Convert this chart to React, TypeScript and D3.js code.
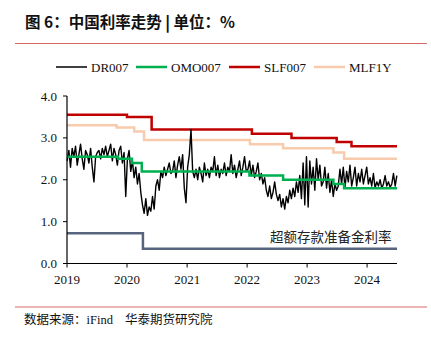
import React from "react";
import * as d3 from "d3";

const W = 431;
const H = 338;

// DR007 (approx. every ~10 days, 2019-01 .. 2024-06)
const dr007: number[] = [
  // 2019
  2.45, 2.70, 2.30, 2.75, 2.55, 2.80, 2.35, 2.60, 2.85, 2.50, 2.25, 2.70,
  2.60, 2.40, 2.75, 2.30, 1.95, 2.55, 2.65, 2.70, 2.50, 2.75, 2.60, 2.80,
  2.55, 2.70, 2.85, 2.45, 2.75, 2.60, 2.35, 2.70, 2.80, 2.40, 2.65, 1.60,
  // 2020
  2.50, 2.70, 2.20, 2.45, 2.05, 2.30, 1.90, 2.15, 1.70,
  1.40, 1.20, 1.55, 1.15, 1.35, 1.25, 1.60, 1.30, 1.85,
  2.00, 1.75, 2.20, 2.05, 2.30, 2.10, 2.25, 2.40, 2.15,
  2.20, 2.45, 2.05, 2.35, 2.55, 2.25, 2.60, 1.80, 1.45,
  // 2021
  2.30, 2.60, 3.20, 2.20, 2.05, 2.25, 2.00, 2.30, 2.15, 1.95, 2.40, 2.10,
  2.25, 2.05, 2.30, 2.20, 2.55, 2.10, 2.35, 2.05, 2.25, 2.15, 2.40, 2.10,
  2.30, 2.20, 2.60, 2.15, 2.35, 2.05, 2.25, 2.45, 2.10, 2.30, 2.55, 2.20,
  // 2022
  2.25, 2.45, 2.10, 2.35, 2.05, 2.20, 2.40, 2.00, 2.15,
  1.90, 2.05, 1.75, 1.60, 1.85, 1.55, 1.70, 1.95, 1.65,
  1.50, 1.65, 1.35, 1.55, 1.30, 1.60, 1.45, 1.75, 1.55,
  1.80, 1.60, 1.95, 1.70, 2.10, 1.55, 2.40, 1.40, 2.55,
  // 2023
  1.35, 2.45, 1.90, 2.30, 1.75, 2.50, 2.00, 2.35, 1.85,
  1.95, 2.30, 1.80, 2.15, 1.70, 2.00, 1.60, 1.90, 1.75,
  1.85, 2.25, 1.90, 2.30, 1.80, 2.20, 1.95, 2.35, 1.85,
  2.05, 2.30, 1.85, 2.15, 1.95, 2.25, 1.90, 2.10, 2.30,
  // 2024
  1.90, 2.05, 1.85, 2.15, 1.80, 1.95, 1.85, 2.00, 1.80,
  1.90, 2.10, 1.85, 1.95, 1.82, 1.90, 2.15, 1.85, 2.10,
];
const drStart = "2019-01-02";
const drEnd = "2024-06-30";

const omoDates = ["2019-01-01", "2019-11-07", "2020-01-31", "2020-03-31", "2022-01-15", "2022-08-08", "2023-06-10", "2023-08-14"];
const omoValues = [2.55, 2.5, 2.4, 2.2, 2.1, 2.0, 1.9, 1.8];

const slfDates = ["2019-01-01", "2020-01-01", "2020-05-30", "2022-01-30", "2022-09-28", "2023-06-30", "2023-09-28"];
const slfValues = [3.55, 3.5, 3.2, 3.1, 3.0, 2.9, 2.8];

const mlfDates = ["2019-01-01", "2019-10-30", "2020-02-14", "2020-04-14", "2022-01-18", "2022-08-08", "2023-06-10", "2023-08-14"];
const mlfValues = [3.3, 3.25, 3.15, 2.95, 2.85, 2.75, 2.65, 2.5];

const excessDates = ["2019-01-01", "2020-04-07"];
const excessValues = [0.72, 0.35];

const yTicks = [0, 1, 2, 3, 4];
const xTickYears = [2019, 2020, 2021, 2022, 2023, 2024];

const legendItems = [
  { name: "DR007", color: "#000000" },
  { name: "OMO007", color: "#00B050" },
  { name: "SLF007", color: "#C00000" },
  { name: "MLF1Y", color: "#F8CBAD" },
];

const endDate = new Date("2024-07-01");
const parse = (s: string) => new Date(s);

export default function App() {
  const left = 67;
  const right = 397;
  const top = 96;
  const bottom = 263.5;

  const x = d3.scaleTime().domain([new Date("2019-01-01"), endDate]).range([left, right]);
  const y = d3.scaleLinear().domain([0, 4]).range([bottom, top]);

  const t0 = parse(drStart).getTime();
  const t1 = parse(drEnd).getTime();
  const drData = dr007.map((v, i) => ({ d: new Date(t0 + ((t1 - t0) * i) / (dr007.length - 1)), v }));

  const drLine = d3
    .line<{ d: Date; v: number }>()
    .x((p) => x(p.d))
    .y((p) => y(p.v));

  const stepPath = (dates: string[], values: number[]) => {
    const pts = dates.map((s, i) => ({ d: parse(s), v: values[i] }));
    pts.push({ d: endDate, v: values[values.length - 1] });
    return d3
      .line<{ d: Date; v: number }>()
      .x((p) => x(p.d))
      .y((p) => y(p.v))
      .curve(d3.curveStepAfter)(pts) as string;
  };

  const serif = "'Liberation Serif', 'Times New Roman', serif";
  const cjk = "'Noto Sans CJK SC', sans-serif";

  const legendX = [56, 136, 229, 314];

  return (
    <svg width={W} height={H} style={{ position: "absolute", left: 0, top: 0, background: "#fff" }}>
      <text x={25} y={28} fontFamily={cjk} fontWeight="bold" fontSize={15.5} fill="#111">
        图 6：中国利率走势 <tspan fontWeight="900">|</tspan> 单位：%
      </text>
      <line x1={15} x2={427} y1={43.5} y2={43.5} stroke="#D96A6A" strokeWidth={1.2} />

      {legendItems.map((it, i) => (
        <g key={it.name}>
          <line x1={legendX[i]} x2={legendX[i] + 31} y1={67} y2={67} stroke={it.color} strokeWidth={it.name === "DR007" ? 1.5 : 2.5} />
          <text x={legendX[i] + 35} y={71.5} fontFamily={serif} fontSize={13} fill="#111">
            {it.name}
          </text>
        </g>
      ))}

      <path d={stepPath(mlfDates, mlfValues)} fill="none" stroke="#F8CBAD" strokeWidth={2.5} />
      <path d={stepPath(slfDates, slfValues)} fill="none" stroke="#C00000" strokeWidth={2.5} />
      <path d={drLine(drData) as string} fill="none" stroke="#000" strokeWidth={1.4} strokeLinejoin="round" />
      <path d={stepPath(omoDates, omoValues)} fill="none" stroke="#00B050" strokeWidth={2.5} />
      <path d={stepPath(excessDates, excessValues)} fill="none" stroke="#56647D" strokeWidth={2.5} />

      <text x={270} y={242} fontFamily={cjk} fontSize={13.5} fill="#222">
        超额存款准备金利率
      </text>

      {/* y axis */}
      <line x1={left} x2={left} y1={top} y2={bottom} stroke="#000" strokeWidth={1.2} />
      {yTicks.map((t) => (
        <g key={t}>
          <line x1={left - 4} x2={left} y1={y(t)} y2={y(t)} stroke="#000" strokeWidth={1} />
          <text x={left - 10} y={y(t) + 4.5} textAnchor="end" fontFamily={serif} fontSize={13} fill="#111">
            {t.toFixed(1)}
          </text>
        </g>
      ))}

      {/* x axis */}
      <line x1={left} x2={right} y1={bottom} y2={bottom} stroke="#000" strokeWidth={1.2} />
      {xTickYears.map((yr) => {
        const xx = x(new Date(`${yr}-01-01`));
        return (
          <g key={yr}>
            <line x1={xx} x2={xx} y1={bottom} y2={bottom + 4} stroke="#000" strokeWidth={1} />
            <text x={xx} y={bottom + 20} textAnchor="middle" fontFamily={serif} fontSize={13} fill="#111">
              {yr}
            </text>
          </g>
        );
      })}

      <line x1={15} x2={427} y1={307} y2={307} stroke="#D96A6A" strokeWidth={1.2} />
      <text x={24} y={324} fontFamily={cjk} fontSize={12.5} fill="#111">
        数据来源：<tspan fontFamily={serif}>iFind</tspan>
        <tspan dx={12}>华泰期货研究院</tspan>
      </text>
    </svg>
  );
}
